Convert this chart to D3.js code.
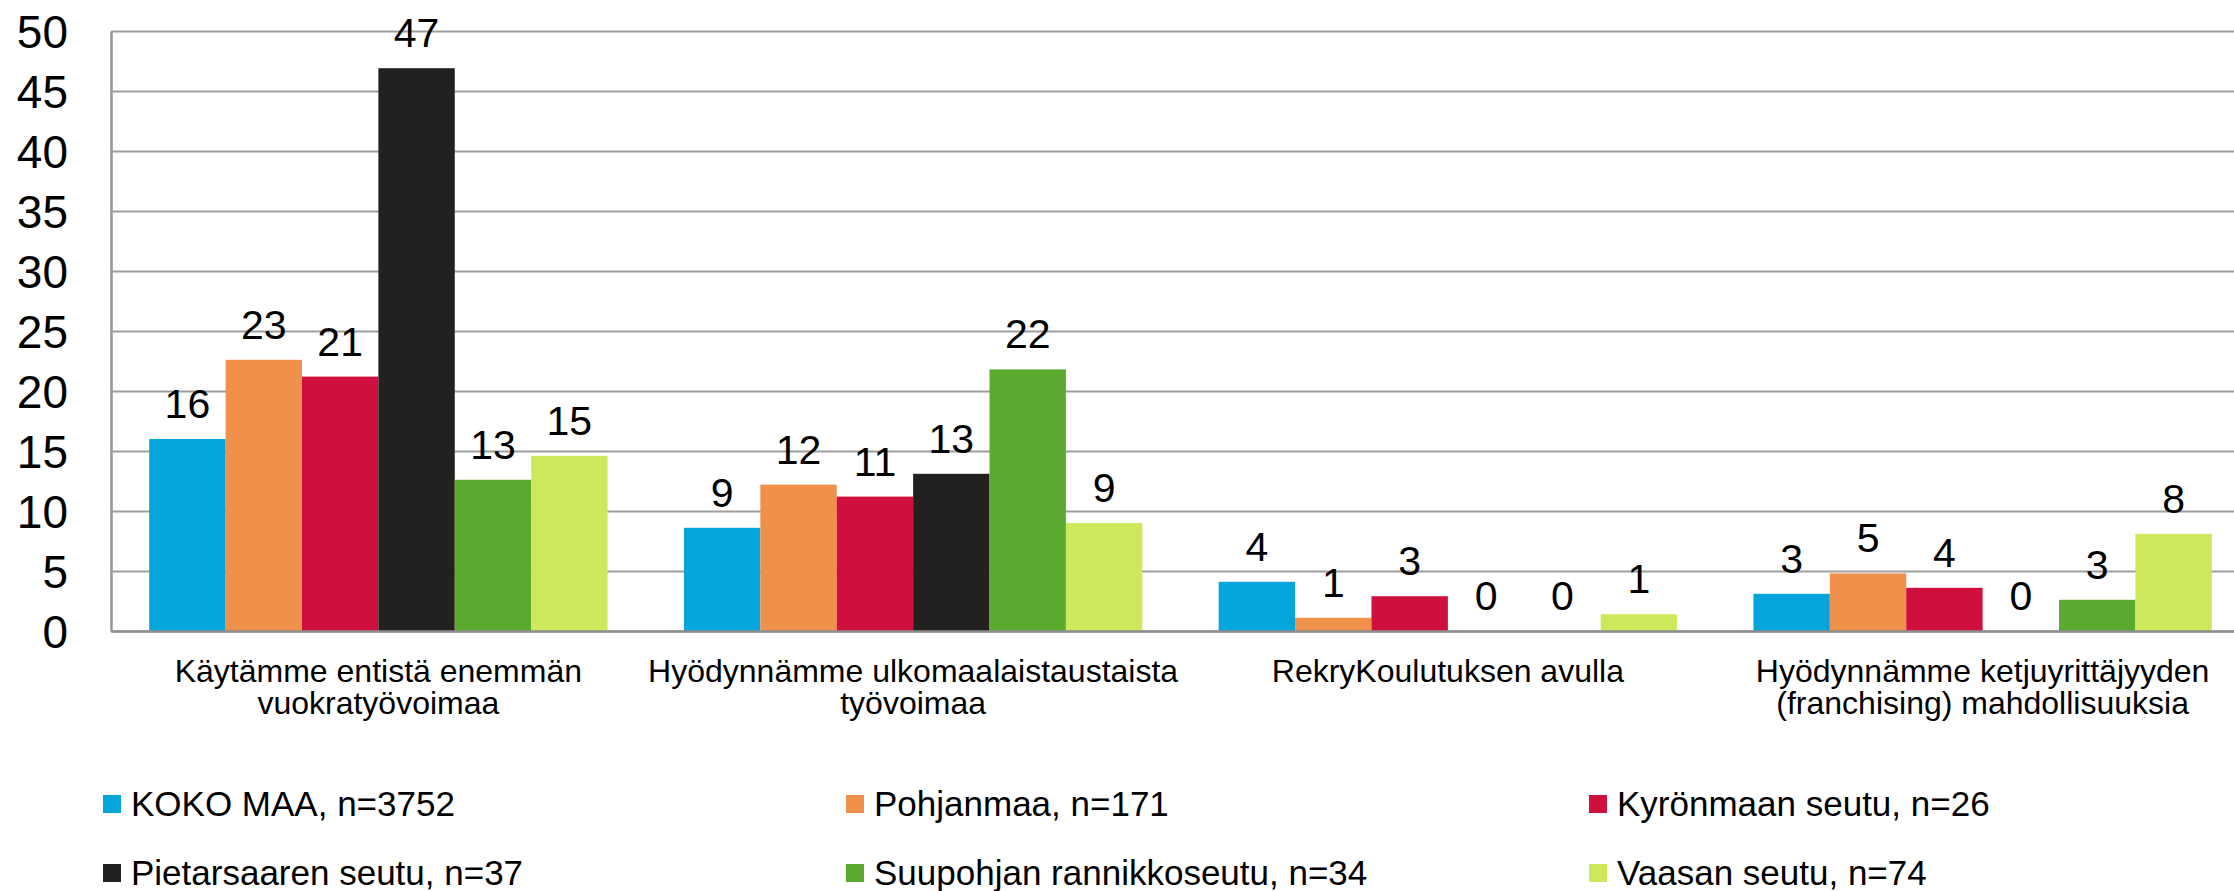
<!DOCTYPE html>
<html lang="fi">
<head>
    <meta charset="UTF-8">
    <title>Keinot työvoiman saatavuuteen</title>
    <style>
        html, body { margin: 0; padding: 0; background: #fff; }
        #chart { width: 2234px; height: 891px; overflow: hidden; }
        svg text { font-family: "Liberation Sans", Arial, sans-serif; fill: #000; }
    </style>
</head>
<body>
    <div id="chart"></div>
    <script src="https://cdn.jsdelivr.net/npm/d3@7/dist/d3.min.js"></script>
    <script>
        // chart data
        const categories = [
            ["Käytämme entistä enemmän", "vuokratyövoimaa"],
            ["Hyödynnämme ulkomaalaistaustaista", "työvoimaa"],
            ["RekryKoulutuksen avulla"],
            ["Hyödynnämme ketjuyrittäjyyden", "(franchising) mahdollisuuksia"]
        ];
        const seriesNames = [
            "KOKO MAA, n=3752",
            "Pohjanmaa, n=171",
            "Kyrönmaan seutu, n=26",
            "Pietarsaaren seutu, n=37",
            "Suupohjan rannikkoseutu, n=34",
            "Vaasan seutu, n=74"
        ];
        const seriesColors = ["#03a5da", "#f0914b", "#cf103e", "#232120", "#59aa2e", "#cde85b"];

        const kokoMaa     = [16.0, 8.6, 4.1, 3.1];
        const pohjanmaa   = [22.6, 12.2, 1.1, 4.8];
        const kyronmaa    = [21.2, 11.2, 2.9, 3.6];
        const pietarsaari = [46.9, 13.1, 0, 0];
        const suupohja    = [12.6, 21.8, 0, 2.6];
        const vaasa       = [14.6, 9.0, 1.4, 8.1];
        const seriesValues = [kokoMaa, pohjanmaa, kyronmaa, pietarsaari, suupohja, vaasa];

        const yTicks = [0, 5, 10, 15, 20, 25, 30, 35, 40, 45, 50];

        const width = 2234, height = 891;
        const plot = { left: 111, right: 2250, top: 31, bottom: 631 };

        const svg = d3.select("#chart").append("svg")
            .attr("width", width)
            .attr("height", height);

        const catKeys = categories.map(c => c.join(" "));

        const x0 = d3.scaleBand()
            .domain(catKeys)
            .range([plot.left, plot.right])
            .padding(0);

        const x1 = d3.scaleBand()
            .domain(seriesNames)
            .range([0, x0.bandwidth()])
            .paddingInner(0)
            .paddingOuter(0.5);

        const y = d3.scaleLinear()
            .domain([0, 50])
            .range([plot.bottom, plot.top]);

        // gridlines + y labels
        const yAxis = svg.append("g")
            .attr("transform", `translate(${plot.left},0)`)
            .call(d3.axisLeft(y)
                .tickValues(yTicks)
                .tickSize(-(plot.right - plot.left))
                .tickSizeOuter(0)
                .tickPadding(43));

        yAxis.select(".domain")
            .attr("stroke", "#949494")
            .attr("stroke-width", 2.5);
        yAxis.selectAll(".tick line")
            .attr("stroke", "#9e9e9e")
            .attr("stroke-width", 2);
        yAxis.selectAll(".tick text")
            .attr("dy", "0.36em")
            .style("font-size", "46px");

        // bars
        const groups = svg.append("g")
            .selectAll("g")
            .data(catKeys)
            .join("g")
            .attr("transform", d => `translate(${x0(d)},0)`);

        const format = d3.format(".0f");

        const cells = groups.selectAll("g")
            .data((d, ci) => seriesNames.map((s, si) => ({ s, si, v: seriesValues[si][ci] })))
            .join("g");

        cells.append("rect")
            .attr("x", d => x1(d.s))
            .attr("y", d => y(d.v))
            .attr("width", x1.bandwidth())
            .attr("height", d => y(0) - y(d.v))
            .attr("fill", d => seriesColors[d.si]);

        cells.append("text")
            .attr("x", d => x1(d.s) + x1.bandwidth() / 2)
            .attr("y", d => y(d.v) - 21)
            .attr("text-anchor", "middle")
            .style("font-size", "41px")
            .text(d => format(d.v));

        // x axis baseline
        svg.append("g")
            .attr("transform", `translate(0,${plot.bottom})`)
            .call(d3.axisBottom(x0).tickSize(0).tickFormat(""))
            .select(".domain")
            .attr("stroke", "#8e8e8e")
            .attr("stroke-width", 2.5);

        // category labels
        const catLabels = svg.append("g")
            .selectAll("text")
            .data(categories)
            .join("text")
            .attr("text-anchor", "middle")
            .attr("y", 682)
            .style("font-size", "32px");

        catLabels.selectAll("tspan")
            .data(d => d.map(line => ({ line, key: d.join(" ") })))
            .join("tspan")
            .attr("x", d => x0(d.key) + x0.bandwidth() / 2)
            .attr("dy", (d, i) => i === 0 ? 0 : 32)
            .text(d => d.line);

        // legend
        const legend = svg.append("g")
            .selectAll("g")
            .data(seriesNames)
            .join("g")
            .attr("transform", (d, i) => `translate(${103 + (i % 3) * 743},${795 + Math.floor(i / 3) * 69})`);

        legend.append("rect")
            .attr("width", 18)
            .attr("height", 18)
            .attr("fill", (d, i) => seriesColors[i]);

        legend.append("text")
            .attr("x", 28)
            .attr("y", 21)
            .style("font-size", "35px")
            .text(d => d);
    </script>
</body>
</html>
